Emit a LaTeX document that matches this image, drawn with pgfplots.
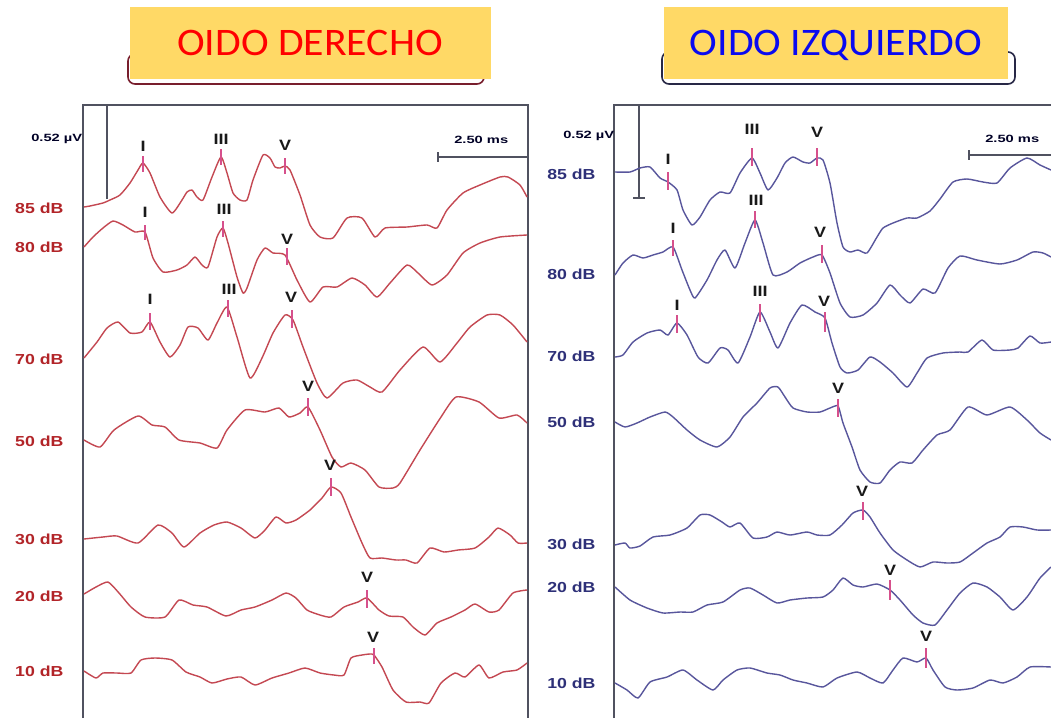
\documentclass[border=0pt]{standalone}
\usepackage{pgfplots}
\pgfplotsset{compat=1.18}
\usepackage{fontspec}
\setmainfont{Liberation Sans}
\newfontfamily\titlefont{Carlito}
\definecolor{trL}{RGB}{196,72,82}
\definecolor{trR}{RGB}{88,86,156}
\definecolor{labL}{RGB}{178,36,40}
\definecolor{labR}{RGB}{46,48,120}
\definecolor{tickc}{RGB}{214,80,140}
\definecolor{frm}{RGB}{80,82,96}
\definecolor{ybox}{RGB}{255,217,102}
\definecolor{ttlR}{RGB}{255,0,0}
\definecolor{ttlB}{RGB}{10,10,240}
\definecolor{outL}{RGB}{120,30,45}
\definecolor{outR}{RGB}{40,40,70}
\tikzset{
 dbL/.style={anchor=west,text=labL,font=\bfseries\fontsize{14.5}{14.5}\selectfont,xscale=1.22,inner sep=0pt},
 dbR/.style={anchor=west,text=labR,font=\bfseries\fontsize{14.5}{14.5}\selectfont,xscale=1.22,inner sep=0pt},
 pk/.style={text=black!90,font=\bfseries\fontsize{15}{15}\selectfont,xscale=1.2,inner sep=0pt},
 sm/.style={anchor=base west,text=black!85!blue,font=\bfseries\fontsize{10.5}{10.5}\selectfont,xscale=1.4,inner sep=0pt},
}
\pgfplotsset{
 trLs/.style={color=trL,line width=1.4pt,mark=none,smooth,tension=0.35,line join=round},
 trRs/.style={color=trR,line width=1.4pt,mark=none,smooth,tension=0.35,line join=round},
 tks/.style={color=tickc,line width=1.6pt,mark=none},
 frs/.style={color=frm,line width=1.5pt,mark=none},
}
\newcommand{\tk}[3]{\addplot[tks] coordinates {(#1,#2)(#1,#3)};}
\begin{document}
\begin{tikzpicture}
\begin{axis}[width=1051pt,height=718pt,scale only axis,xmin=0,xmax=1051,ymin=0,ymax=718,
 y dir=reverse,hide axis,clip=true]
\fill[white] (axis cs:0,0) rectangle (axis cs:1051,718);
% titles
\draw[outL,line width=1.6pt,rounded corners=7pt] (axis cs:128,54) rectangle (axis cs:484,84);
\fill[ybox] (axis cs:130,7) rectangle (axis cs:491,79);
\node[anchor=base,text=ttlR,font=\titlefont\fontsize{39}{39}\selectfont,xscale=1.07,inner sep=0pt] at (axis cs:310,55) {OIDO DERECHO};
\draw[outR,line width=1.6pt,rounded corners=7pt] (axis cs:662,52) rectangle (axis cs:1015,84);
\fill[ybox] (axis cs:664,7) rectangle (axis cs:1008,79);
\node[anchor=base,text=ttlB,font=\titlefont\fontsize{39}{39}\selectfont,xscale=1.07,inner sep=0pt] at (axis cs:836,55) {OIDO IZQUIERDO};
% frames and scale bars
\addplot[frs] coordinates {(83,718)(83,105)(528,105)(528,718)};
\addplot[frs] coordinates {(614,718)(614,105)(1051,105)};
\addplot[frs] coordinates {(107,105)(107,199)};
\addplot[frs] coordinates {(639,105)(639,198)};
\addplot[frs] coordinates {(633,198)(645,198)};
\addplot[frs] coordinates {(438,157)(528,157)};
\addplot[frs] coordinates {(438,152)(438,162)};
\addplot[frs] coordinates {(969,155)(1051,155)};
\addplot[frs] coordinates {(969,150)(969,160)};
\node[sm] at (axis cs:31,141) {0.52 µV};
\node[sm] at (axis cs:563,138) {0.52 µV};
\node[sm] at (axis cs:454,143) {2.50 ms};
\node[sm] at (axis cs:985,142) {2.50 ms};
% left traces
\addplot[trLs] coordinates {(84,207)(90,206)(103,203)(110,200)(120,195)(130,183)(138,170)(143,163)(150,173)(160,197)(172,213)(182,200)(187,192)(192,190)(197,197)(203,200)(212,177)(221,157)(227,173)(233,193)(240,200)(247,200)(253,180)(263,155)(270,158)(275,167)(280,168)(285,166)(290,170)(300,195)(310,225)(320,237)(333,238)(347,218)(362,218)(375,237)(385,228)(407,227)(427,225)(437,228)(447,210)(463,193)(480,185)(500,177)(508,177)(520,185)(527,197)};
\addplot[trLs] coordinates {(84,247)(93,237)(103,228)(113,221)(123,225)(135,232)(145,232)(153,258)(163,272)(177,270)(187,265)(195,257)(202,265)(208,267)(217,237)(223,228)(228,243)(237,277)(243,293)(247,288)(257,260)(265,248)(273,253)(285,255)(297,280)(310,302)(323,287)(337,287)(352,278)(365,285)(377,297)(390,283)(407,265)(418,273)(432,285)(447,275)(463,253)(480,243)(500,237)(527,235)};
\addplot[trLs] coordinates {(84,358)(97,342)(107,328)(118,322)(130,333)(142,332)(150,322)(160,342)(170,357)(180,345)(188,327)(198,328)(208,340)(217,323)(227,307)(237,337)(250,378)(262,358)(273,333)(285,315)(293,320)(303,347)(317,383)(327,398)(343,383)(357,380)(370,387)(382,392)(400,370)(423,347)(440,362)(457,343)(470,327)(487,315)(500,315)(513,325)(527,342)};
\addplot[trLs] coordinates {(84,440)(100,447)(114,430)(138,416)(152,425)(165,427)(179,440)(200,443)(217,448)(227,430)(245,410)(265,412)(279,408)(289,417)(300,413)(308,407)(320,430)(332,457)(341,467)(351,463)(365,470)(379,487)(393,488)(400,483)(420,450)(441,417)(456,397)(479,402)(499,418)(517,415)(527,423)};
\addplot[trLs] coordinates {(84,539)(103,537)(117,536)(138,543)(158,525)(172,533)(184,547)(200,533)(214,525)(227,522)(241,528)(255,538)(265,530)(276,517)(286,523)(296,520)(310,510)(322,498)(331,487)(341,493)(351,517)(362,543)(370,558)(382,558)(396,560)(406,560)(417,563)(430,548)(444,552)(458,550)(475,548)(489,537)(498,528)(510,535)(518,543)(527,543)};
\addplot[trLs] coordinates {(84,594)(96,587)(108,582)(119,593)(131,607)(145,617)(165,617)(179,600)(193,605)(207,607)(226,616)(241,610)(255,607)(272,600)(286,593)(296,598)(307,610)(320,615)(331,617)(344,607)(358,602)(367,598)(379,610)(389,616)(403,617)(413,627)(425,635)(437,623)(451,617)(465,610)(475,604)(489,612)(499,610)(513,593)(527,590)};
\addplot[trLs] coordinates {(84,671)(96,678)(103,673)(117,673)(131,673)(141,660)(155,658)(172,660)(186,672)(200,677)(212,683)(227,679)(241,677)(255,685)(272,678)(289,673)(305,668)(320,673)(334,675)(344,675)(351,658)(362,655)(370,654)(374,655)(382,667)(393,690)(406,702)(420,702)(429,703)(441,683)(455,673)(465,677)(479,665)(489,678)(503,672)(517,670)(527,663)};
% right traces
\addplot[trRs] coordinates {(615,172)(630,172)(640,168)(650,167)(660,178)(668,182)(677,190)(683,210)(692,225)(700,217)(710,200)(720,192)(730,193)(740,173)(752,158)(760,173)(768,190)(777,178)(785,163)(793,157)(803,162)(810,163)(817,158)(823,160)(830,183)(837,223)(843,247)(850,252)(858,250)(867,253)(877,237)(883,228)(893,223)(907,218)(917,218)(930,211)(940,199)(953,182)(967,179)(983,182)(997,183)(1010,168)(1027,158)(1040,165)(1051,170)};
\addplot[trRs] coordinates {(615,275)(623,263)(633,255)(643,258)(653,255)(663,252)(673,247)(682,270)(690,290)(695,298)(707,280)(717,260)(725,250)(735,268)(745,243)(755,220)(763,243)(773,275)(787,272)(800,263)(813,257)(822,255)(830,273)(840,303)(850,317)(863,315)(877,303)(890,285)(900,295)(910,303)(923,289)(935,293)(948,268)(960,256)(977,260)(1000,264)(1017,260)(1033,252)(1043,253)(1051,257)};
\addplot[trRs] coordinates {(615,357)(623,355)(633,342)(647,333)(660,330)(668,335)(677,323)(687,335)(698,357)(708,363)(720,348)(728,350)(738,363)(750,337)(760,312)(770,332)(778,348)(790,323)(802,305)(815,312)(825,318)(832,343)(840,367)(847,373)(858,370)(870,357)(880,362)(893,373)(907,387)(917,373)(927,358)(943,353)(960,352)(968,352)(982,340)(993,350)(1010,350)(1018,348)(1030,336)(1040,343)(1051,342)};
\addplot[trRs] coordinates {(615,422)(625,427)(637,423)(650,417)(665,412)(673,417)(687,430)(700,440)(717,447)(730,437)(743,417)(757,403)(770,388)(778,387)(785,397)(793,408)(807,412)(820,412)(830,408)(838,406)(843,423)(852,447)(860,470)(870,482)(880,483)(890,470)(900,462)(912,463)(923,450)(937,435)(950,430)(968,407)(987,415)(1010,407)(1027,420)(1040,433)(1051,440)};
\addplot[trRs] coordinates {(615,545)(625,543)(630,548)(640,546)(653,537)(670,535)(687,528)(700,515)(710,515)(722,522)(730,527)(740,523)(753,538)(767,537)(777,532)(790,535)(807,532)(817,535)(830,535)(842,525)(853,513)(863,510)(870,517)(880,533)(893,550)(907,560)(920,567)(933,562)(947,563)(960,562)(973,553)(987,543)(1000,537)(1010,527)(1023,527)(1037,530)(1051,530)};
\addplot[trRs] coordinates {(615,587)(630,600)(647,608)(663,613)(680,612)(693,612)(707,605)(723,602)(740,590)(750,588)(763,595)(777,603)(790,600)(807,598)(823,597)(833,590)(843,578)(853,585)(863,587)(877,584)(890,590)(900,600)(913,615)(923,623)(935,625)(947,610)(960,593)(973,583)(987,587)(1000,597)(1013,610)(1027,597)(1040,578)(1051,567)};
\addplot[trRs] coordinates {(615,683)(627,690)(638,698)(650,682)(667,677)(683,670)(697,680)(713,690)(723,680)(737,670)(750,668)(767,673)(780,675)(793,680)(807,683)(823,687)(837,678)(857,672)(870,678)(883,683)(893,670)(903,658)(917,662)(926,658)(933,670)(945,687)(957,690)(973,688)(990,680)(1003,683)(1017,677)(1030,667)(1051,667)};
% peak ticks
\tk{143}{156}{172}\tk{221}{149}{165}\tk{285}{158}{174}
\tk{145}{225}{240}\tk{223}{221}{237}\tk{287}{248}{265}
\tk{150}{313}{330}\tk{228}{300}{317}\tk{292}{310}{328}
\tk{308}{398}{416}\tk{331}{478}{496}\tk{367}{590}{608}\tk{374}{648}{664}
\tk{668}{172}{190}\tk{752}{148}{166}\tk{817}{148}{166}
\tk{673}{240}{256}\tk{755}{211}{228}\tk{822}{245}{263}
\tk{677}{315}{333}\tk{760}{304}{322}\tk{825}{312}{332}
\tk{838}{399}{417}\tk{863}{502}{520}\tk{890}{580}{600}\tk{926}{648}{668}
% peak labels
\node[pk] at (axis cs:143,146) {I};
\node[pk] at (axis cs:221,139) {III};
\node[pk] at (axis cs:285,145) {V};
\node[pk] at (axis cs:145,212) {I};
\node[pk] at (axis cs:224,209) {III};
\node[pk] at (axis cs:287,239) {V};
\node[pk] at (axis cs:150,299) {I};
\node[pk] at (axis cs:229,289) {III};
\node[pk] at (axis cs:291,297) {V};
\node[pk] at (axis cs:308,386) {V};
\node[pk] at (axis cs:330,465) {V};
\node[pk] at (axis cs:367,577) {V};
\node[pk] at (axis cs:373,637) {V};
\node[pk] at (axis cs:668,159) {I};
\node[pk] at (axis cs:752,129) {III};
\node[pk] at (axis cs:817,132) {V};
\node[pk] at (axis cs:673,228) {I};
\node[pk] at (axis cs:756,200) {III};
\node[pk] at (axis cs:820,232) {V};
\node[pk] at (axis cs:677,305) {I};
\node[pk] at (axis cs:760,291) {III};
\node[pk] at (axis cs:824,301) {V};
\node[pk] at (axis cs:838,388) {V};
\node[pk] at (axis cs:862,491) {V};
\node[pk] at (axis cs:890,570) {V};
\node[pk] at (axis cs:926,636) {V};
% dB labels
\node[dbL] at (axis cs:15,208) {85 dB};
\node[dbL] at (axis cs:15,247) {80 dB};
\node[dbL] at (axis cs:15,359) {70 dB};
\node[dbL] at (axis cs:15,441) {50 dB};
\node[dbL] at (axis cs:15,539) {30 dB};
\node[dbL] at (axis cs:15,596) {20 dB};
\node[dbL] at (axis cs:15,671) {10 dB};
\node[dbR] at (axis cs:547,174) {85 dB};
\node[dbR] at (axis cs:547,274) {80 dB};
\node[dbR] at (axis cs:547,356) {70 dB};
\node[dbR] at (axis cs:547,422) {50 dB};
\node[dbR] at (axis cs:547,544) {30 dB};
\node[dbR] at (axis cs:547,587) {20 dB};
\node[dbR] at (axis cs:547,683) {10 dB};
\end{axis}
\end{tikzpicture}
\end{document}
